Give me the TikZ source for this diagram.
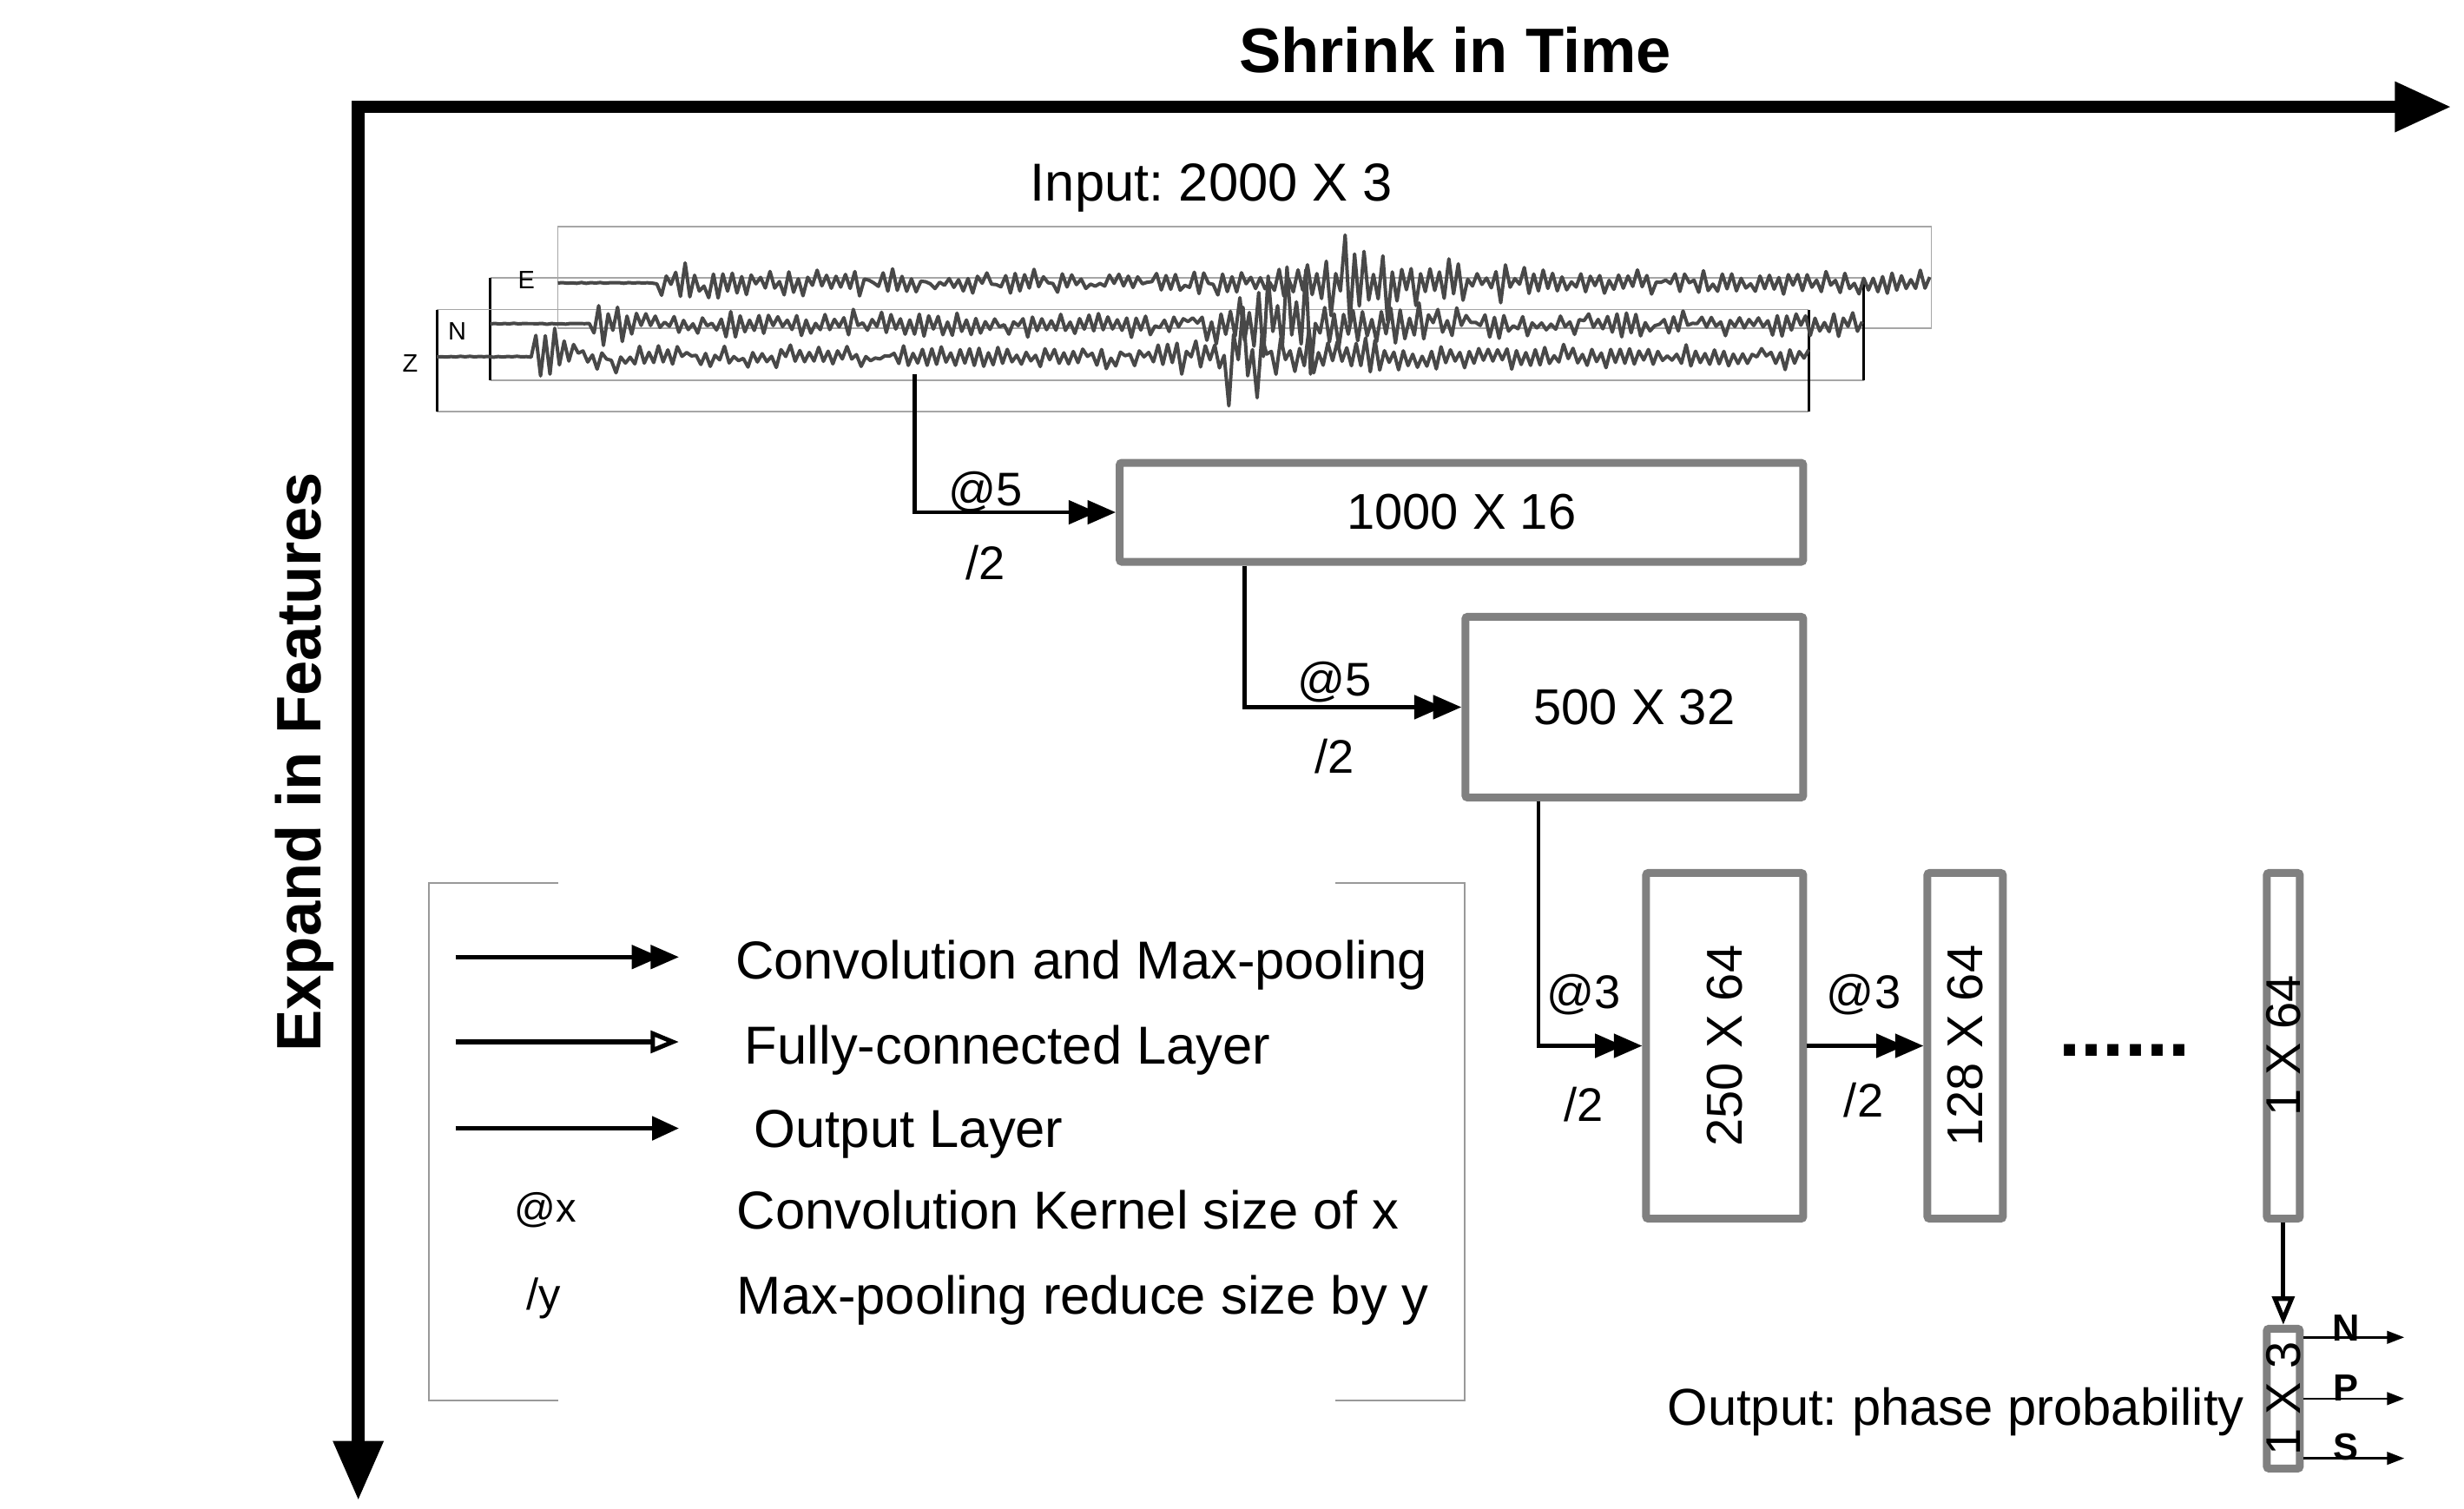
\documentclass[tikz,border=0pt]{standalone}
\usepackage{fontspec}
\setmainfont{Liberation Sans}
\usetikzlibrary{arrows.meta}
\definecolor{boxgray}{HTML}{808080}
\definecolor{tracegray}{HTML}{484848}
\definecolor{framegray}{HTML}{A6A6A6}
\definecolor{brgray}{HTML}{999999}
\frenchspacing
\begin{document}
\begin{tikzpicture}[x=1pt,y=-1pt,
  every node/.style={inner sep=0pt,outer sep=0pt},
  fsz/.style={font=\fontsize{#1}{#1}\selectfont},
  bfsz/.style={font=\fontsize{#1}{#1}\selectfont\bfseries},
  layer/.style={draw=boxgray,line width=5pt,rounded corners=1.5pt,fill=white,outer sep=2.5pt},
  conv/.style={line width=2.5pt,-{Triangle[length=18pt,width=15pt,sep=-6pt]Triangle[length=18pt,width=15pt]}},
  fcarrow/.style={line width=2.8pt,-{Triangle[open,length=18pt,width=14pt]}},
  outl/.style={line width=2.5pt,-{Triangle[length=17pt,width=15pt]}},
  prob/.style={line width=1.5pt,-{Triangle[length=11pt,width=8pt]}},
  axis/.style={line width=8pt,line join=miter,{Triangle[length=38pt,width=30pt]}-{Triangle[length=36pt,width=30pt]}},
  trace/.style={draw=tracegray,line width=2.2pt,line join=round},
  gframe/.style={draw=framegray,line width=1pt},
  kframe/.style={draw=black,line width=1.5pt},
  declare function={
    wig(\x,\o)=(0.1+0.9*rnd)*(1-2*(mod(round(\x-\o),6)>1.5))+0.4*rand;
    envE(\x)=(\x<417)*0.3+(\x>=417)*(7+10*exp(-min(max(\x-417,0)/25,20))+36*exp(-min(abs(\x-855)/((\x<855)*12+(\x>=855)*40),20)));
    envN(\x)=(\x<376)*0.3+(\x>=376)*(7+10*exp(-min(max(\x-376,0)/25,20))+34*exp(-min(abs(\x-815)/((\x<815)*22+(\x>=815)*40),20)));
    envZ(\x)=(\x<340)*0.3+(\x>=340)*(6+32*exp(-min(max(\x-340,0)/6,20))+8*exp(-min(max(\x-340,0)/40,20))+28*exp(-min(abs(\x-790)/((\x<790)*20+(\x>=790)*40),20)));
  }
]
\useasboundingbox (0,0) rectangle (1568,960);
\fill[white] (0,0) rectangle (1568,960);
\pgfmathsetseed{11}

% axes
\coordinate (axB) at (228,955);
\coordinate (axC) at (228,68);
\coordinate (axR) at (1560,68);
\draw[axis] (axB) -- (axC) -- (axR);
\node[bfsz=40,anchor=base] (title) at (926,46) {Shrink in Time};
\node[bfsz=40,rotate=90] (ylab) at (194,485) {Expand in Features};

% input
\node[fsz=34,anchor=base] (inlab) at (771,128) {Input: 2000 X 3};
\draw[gframe] (355,144) rectangle (1229,209);
\draw[gframe] (312,177) -- (1186,177) (312,242) -- (1186,242);
\draw[kframe] (312,177) -- (312,242) (1186,177) -- (1186,242);
\draw[gframe] (278,197) -- (1151,197) (278,262) -- (1151,262);
\draw[kframe] (278,197) -- (278,262) (1151,197) -- (1151,262);
\node[fsz=16] (lE) at (335,178) {E};
\node[fsz=16] (lN) at (291,211) {N};
\node[fsz=16] (lZ) at (261,231) {Z};
\draw[trace] plot[domain=355:1228,samples=292] (\x,{180+envE(\x)*wig(\x,355)});
\draw[trace] plot[domain=312:1185,samples=292] (\x,{206+envN(\x)*wig(\x,312)});
\draw[trace] plot[domain=278:1151,samples=292] (\x,{227+envZ(\x)*wig(\x,278)});

% layers
\node[layer,minimum width=435pt,minimum height=63pt] (b1) at (930,326) {};
\node[fsz=32] (t1) at (b1) {1000 X 16};
\node[layer,minimum width=215pt,minimum height=115pt] (b2) at (1040,450) {};
\node[fsz=32] (t2) at (b2) {500 X 32};
\node[layer,minimum width=100pt,minimum height=220pt] (b3) at (1097.5,665.5) {};
\node[fsz=32,rotate=90] (t3) at (b3) {250 X 64};
\node[layer,minimum width=48pt,minimum height=220pt] (b4) at (1250.5,665.5) {};
\node[fsz=32,rotate=90] (t4) at (b4) {128 X 64};
\node[layer,minimum width=21pt,minimum height=220pt] (b5) at (1453,665.5) {};
\node[fsz=31,rotate=90] (t5) at (b5) {1 X 64};
\node[layer,minimum width=21pt,minimum height=89pt] (b6) at (1453,890) {};
\node[fsz=31,rotate=90] (t6) at (b6) {1 X 3};
\node[bfsz=50,anchor=base] (dots) at (1352,672) {......};

% connectors
\coordinate (inp) at (582,238);
\draw[conv] (inp) |- (b1.west);
\node[fsz=30] (k1) at (627,313) {@5};
\node[fsz=30] (p1) at (627,358) {/2};
\draw[conv] ([xshift=-138pt]b1.south) |- (b2.west);
\node[fsz=30] (k2) at (849,434) {@5};
\node[fsz=30] (p2) at (849,481) {/2};
\draw[conv] ([xshift=-61pt]b2.south) |- (b3.west);
\node[fsz=30] (k3) at (1008,633) {@3};
\node[fsz=30] (p3) at (1008,703) {/2};
\draw[conv] (b3.east) -- (b4.west);
\node[fsz=30] (k4) at (1186,633) {@3};
\node[fsz=30] (p4) at (1186,700) {/2};
\draw[fcarrow] (b5.south) -- (b6.north);

% outputs
\coordinate (oN) at ([yshift=39pt]b6.east);
\coordinate (oP) at (b6.east);
\coordinate (oS) at ([yshift=-38pt]b6.east);
\coordinate (eN) at (1530,851);
\coordinate (eP) at (1530,890);
\coordinate (eS) at (1530,928);
\draw[prob] (oN) -- (eN);
\draw[prob] (oP) -- (eP);
\draw[prob] (oS) -- (eS);
\node[bfsz=24] (pN) at (1493,845) {N};
\node[bfsz=24] (pP) at (1493,883) {P};
\node[bfsz=24] (pS) at (1493,921) {S};
\node[fsz=33,anchor=base east] (outlab) at (1428,907) {Output: phase probability};

% legend
\draw[brgray,line width=1pt] (355,562) -- (273,562) -- (273,891) -- (355,891);
\draw[brgray,line width=1pt] (850,562) -- (932,562) -- (932,891) -- (850,891);
\coordinate (l1a) at (290,609); \coordinate (l1b) at (432,609);
\coordinate (l2a) at (290,663); \coordinate (l2b) at (432,663);
\coordinate (l3a) at (290,718); \coordinate (l3b) at (432,718);
\draw[conv] (l1a) -- (l1b);
\draw[fcarrow] (l2a) -- (l2b);
\draw[outl] (l3a) -- (l3b);
\node[fsz=34,anchor=base west] (g1) at (468,623) {Convolution and Max-pooling};
\node[fsz=34,anchor=base west] (g2) at (474,677) {Fully-connected Layer};
\node[fsz=34,anchor=base west] (g3) at (480,730) {Output Layer};
\node[fsz=26] (g4s) at (347,770) {@x};
\node[fsz=34,anchor=base west] (g4) at (469,782) {Convolution Kernel size of x};
\node[fsz=28] (g5s) at (346,826) {/y};
\node[fsz=34,anchor=base west] (g5) at (469,836) {Max-pooling reduce size by y};
\end{tikzpicture}
\end{document}
